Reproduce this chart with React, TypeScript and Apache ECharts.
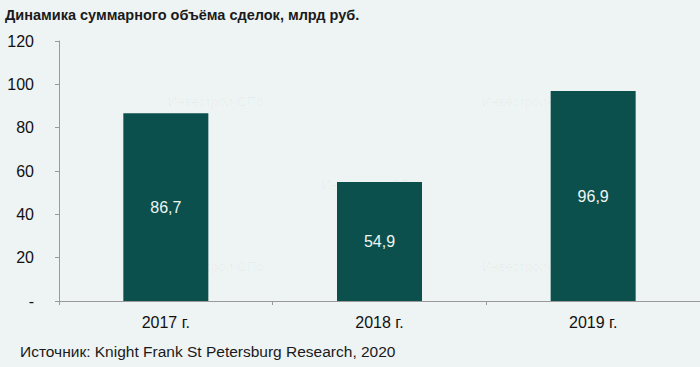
import React, { useEffect, useRef } from "react";
import * as echarts from "echarts";

const categories = ["2017 г.", "2018 г.", "2019 г."];
const values = [86.7, 54.9, 96.9];
const yTicks = [0, 20, 40, 60, 80, 100, 120];
const title = "Динамика суммарного объёма сделок, млрд руб.";
const source = "Источник: Knight Frank St Petersburg Research, 2020";
const watermark = "Инвестрой-СПб";

export default function App() {
  const ref = useRef<HTMLDivElement>(null);
  useEffect(() => {
    if (!ref.current) return;
    const chart = echarts.init(ref.current, null, { renderer: "svg" });
    const wmPos = [
      [168, 95], [482, 95], [322, 178], [168, 260], [482, 260]
    ];
    chart.setOption({
      animation: false,
      backgroundColor: "#eef3f4",
      textStyle: { fontFamily: "Liberation Sans, Arial, sans-serif" },
      grid: { left: 59, right: 0, top: 41, bottom: 66, containLabel: false },
      xAxis: {
        type: "category",
        data: categories,
        axisLine: { lineStyle: { color: "#9a9a9a", width: 1 } },
        axisTick: { show: true, length: 4, lineStyle: { color: "#9a9a9a" } },
        axisLabel: { color: "#111", fontSize: 16, margin: 13 },
      },
      yAxis: {
        type: "value",
        min: yTicks[0],
        max: yTicks[yTicks.length - 1],
        interval: 20,
        splitLine: { show: false },
        axisLine: { show: true, lineStyle: { color: "#9a9a9a", width: 1 } },
        axisTick: { show: true, length: 4, lineStyle: { color: "#9a9a9a" } },
        axisLabel: {
          color: "#111",
          fontSize: 16,
          margin: 25,
          formatter: (v: number) => (v === 0 ? "-" : String(v)),
        },
      },
      series: [
        {
          type: "bar",
          data: values,
          barWidth: 85,
          itemStyle: { color: "#0b504c" },
          label: {
            show: true,
            position: "inside",
            color: "#eef6f4",
            fontSize: 16,
            formatter: (p: any) => String(p.value).replace(".", ","),
          },
        },
      ],
      graphic: [
        ...wmPos.map(([x, y]) => ({
          type: "text",
          left: x,
          top: y,
          silent: true,
          z: -1,
          style: { text: watermark, fill: "rgba(0,0,0,0.035)", fontSize: 13, fontFamily: "Liberation Sans" },
        })),
        {
          type: "text",
          left: 5,
          top: 7,
          style: { text: title, fill: "#1a1a1a", fontSize: 14.5, fontWeight: "bold", fontFamily: "Liberation Sans, Arial" },
        },
        {
          type: "text",
          left: 20,
          top: 343,
          style: { text: source, fill: "#1a1a1a", fontSize: 15.5, fontFamily: "Liberation Sans Narrow, Liberation Sans, Arial" },
        },
      ],
    });
    return () => chart.dispose();
  }, []);
  return <div ref={ref} style={{ width: 700, height: 367, position: "absolute", left: 0, top: 0 }} />;
}
